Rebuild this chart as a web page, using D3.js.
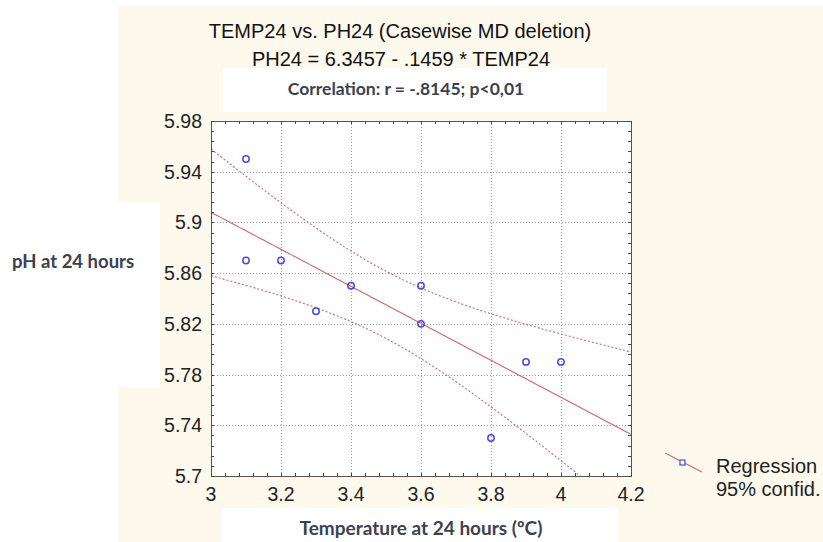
<!DOCTYPE html>
<html>
<head>
<meta charset="utf-8">
<script src="https://cdn.jsdelivr.net/npm/d3@7"></script>
<style>
  body { margin: 0; background: #fff; }
  svg { display: block; }
</style>
</head>
<body>
<div id="chart"></div>
<script>
// data (10 cases)
const temp24 = [3.1, 3.1, 3.2, 3.3, 3.4, 3.6, 3.6, 3.8, 3.9, 4.0];
const ph24 = [5.95, 5.87, 5.87, 5.83, 5.85, 5.85, 5.82, 5.73, 5.79, 5.79];

const xTicks = [3, 3.2, 3.4, 3.6, 3.8, 4, 4.2];
const yTicks = [5.7, 5.74, 5.78, 5.82, 5.86, 5.9, 5.94, 5.98];

const titleText = "TEMP24 vs. PH24 (Casewise MD deletion)";
const equationText = "PH24 = 6.3457 - .1459 * TEMP24";
const corrText = "Correlation: r = -.8145; p<0,01";
const yLabel = "pH at 24 hours";
const xLabel = "Temperature at 24 hours (ºC)";
const legendLabels = ["Regression", "95% confid."];

const width = 823, height = 542;
const margin = { top: 121, right: 192, bottom: 66, left: 211 };
const cream = "#fdf9ed";
const lineColor = "#d06474";
const dotColor = "#4a4ae0";
const arial = "'Liberation Sans', Arial, sans-serif";
const calibri = "Lato, 'Open Sans', sans-serif";

const svg = d3.select("#chart").append("svg")
    .attr("width", width)
    .attr("height", height)
    .attr("viewBox", [0, 0, width, height]);

// background patches (cream page with white boxes behind the labels)
svg.append("rect").attr("x", 118).attr("y", 6).attr("width", width - 118).attr("height", height - 6).attr("fill", cream);
svg.append("rect").attr("x", 0).attr("y", 202).attr("width", 160).attr("height", 185).attr("fill", "#fff");
svg.append("rect").attr("x", 223).attr("y", 68).attr("width", 384).attr("height", 44).attr("fill", "#fff");
svg.append("rect").attr("x", 222).attr("y", 508).attr("width", 396).attr("height", 34).attr("fill", "#fff");

let x = d3.scaleLinear()
    .domain([3, 4.2])
    .range([margin.left, width - margin.right]);

let y = d3.scaleLinear()
    .domain([5.7, 5.98])
    .range([height - margin.bottom, margin.top]);

const x0 = x.range()[0], x1 = x.range()[1];
const y0 = y.range()[1], y1 = y.range()[0];

svg.append("rect")
    .attr("x", x0).attr("y", y0)
    .attr("width", x1 - x0).attr("height", y1 - y0)
    .attr("fill", "#fff");

svg.append("clipPath").attr("id", "plot-clip")
  .append("rect")
    .attr("x", x0).attr("y", y0)
    .attr("width", x1 - x0).attr("height", y1 - y0);

// dotted grid
let grid = svg.append("g")
    .attr("stroke", "#9a9a9a")
    .attr("stroke-width", 1)
    .attr("stroke-dasharray", "1,2");

grid.selectAll(".gx")
    .data(xTicks.slice(1, -1))
    .join("line")
    .attr("x1", d => Math.round(x(d)) + 0.5).attr("x2", d => Math.round(x(d)) + 0.5)
    .attr("y1", y0).attr("y2", y1);

grid.selectAll(".gy")
    .data(yTicks.slice(1, -1))
    .join("line")
    .attr("y1", d => Math.round(y(d)) + 0.5).attr("y2", d => Math.round(y(d)) + 0.5)
    .attr("x1", x0).attr("x2", x1);

// least squares fit + 95% confidence band
const n = temp24.length;
const mx = d3.mean(temp24), my = d3.mean(ph24);
const sxx = d3.sum(temp24, v => (v - mx) ** 2);
const sxy = d3.sum(temp24, (v, i) => (v - mx) * (ph24[i] - my));
const slope = sxy / sxx;
const intercept = my - slope * mx;
const sse = d3.sum(temp24, (v, i) => (ph24[i] - (intercept + slope * v)) ** 2);
const s = Math.sqrt(sse / (n - 2));
const tCrit = 2.306; // t(0.975, df = 8)

const xs = d3.range(0, 121).map(i => 3 + i * 0.01);
const fit = v => intercept + slope * v;
const half = v => tCrit * s * Math.sqrt(1 / n + (v - mx) ** 2 / sxx);

let line = d3.line().x(d => x(d[0])).y(d => y(d[1]));

let plot = svg.append("g").attr("clip-path", "url(#plot-clip)");

plot.append("path")
    .attr("d", line(xs.map(v => [v, fit(v)])))
    .attr("fill", "none")
    .attr("stroke", lineColor)
    .attr("stroke-width", 1.1);

[1, -1].forEach(sign => {
    plot.append("path")
        .attr("d", line(xs.map(v => [v, fit(v) + sign * half(v)])))
        .attr("fill", "none")
        .attr("stroke", lineColor)
        .attr("stroke-width", 1.1)
        .attr("stroke-dasharray", "2,2");
});

// points
plot.selectAll(".dot")
    .data(temp24.map((t, i) => ({ t: t, p: ph24[i] })))
    .join("circle")
    .attr("class", "dot")
    .attr("cx", d => x(d.t))
    .attr("cy", d => y(d.p))
    .attr("r", 3.2)
    .attr("fill", "none")
    .attr("stroke", dotColor)
    .attr("stroke-width", 1.5);

// frame
svg.append("rect")
    .attr("x", x0 + 0.5).attr("y", y0 + 0.5)
    .attr("width", x1 - x0).attr("height", y1 - y0)
    .attr("fill", "none")
    .attr("stroke", "#555")
    .attr("stroke-width", 1);

// inward ticks on all four sides, 5 minor steps per major
const xMinor = d3.range(0, 31).map(i => 3 + i * 0.04);
const yMinor = d3.range(0, 36).map(i => 5.7 + i * 0.008);

let ticks = svg.append("g").attr("stroke", "#444").attr("stroke-width", 1);

ticks.selectAll(".tx")
    .data(xMinor)
    .join("g")
    .each(function(d) {
        const px = Math.round(x(d)) + 0.5;
        d3.select(this).append("line").attr("x1", px).attr("x2", px).attr("y1", y1).attr("y2", y1 - 3);
        d3.select(this).append("line").attr("x1", px).attr("x2", px).attr("y1", y0).attr("y2", y0 + 3);
    });

ticks.selectAll(".ty")
    .data(yMinor)
    .join("g")
    .each(function(d) {
        const py = Math.round(y(d)) + 0.5;
        d3.select(this).append("line").attr("x1", x0).attr("x2", x0 + 3).attr("y1", py).attr("y2", py);
        d3.select(this).append("line").attr("x1", x1).attr("x2", x1 - 3).attr("y1", py).attr("y2", py);
    });

// tick labels
svg.append("g")
    .attr("font-family", arial)
    .attr("font-size", 19.5)
    .attr("fill", "#222")
    .selectAll("text")
    .data(xTicks)
    .join("text")
    .attr("x", d => x(d))
    .attr("y", 501)
    .attr("text-anchor", "middle")
    .text(d => String(d));

svg.append("g")
    .attr("font-family", arial)
    .attr("font-size", 19.5)
    .attr("fill", "#222")
    .selectAll("text")
    .data(yTicks)
    .join("text")
    .attr("x", 202)
    .attr("y", d => y(d))
    .attr("dy", "0.36em")
    .attr("text-anchor", "end")
    .text(d => String(d));

// titles
svg.append("text")
    .attr("x", 400).attr("y", 38)
    .attr("text-anchor", "middle")
    .attr("font-family", arial)
    .attr("font-size", 20)
    .attr("fill", "#111")
    .text(titleText);

svg.append("text")
    .attr("x", 401).attr("y", 66)
    .attr("text-anchor", "middle")
    .attr("font-family", arial)
    .attr("font-size", 20)
    .attr("fill", "#111")
    .text(equationText);

svg.append("text")
    .attr("x", 406).attr("y", 95)
    .attr("text-anchor", "middle")
    .attr("font-family", calibri)
    .attr("font-weight", 700)
    .attr("font-size", 17.5)
    .attr("fill", "#3b4150")
    .text(corrText);

svg.append("text")
    .attr("x", 12).attr("y", 268)
    .attr("font-family", calibri)
    .attr("font-weight", 700)
    .attr("font-size", 18.5)
    .attr("fill", "#3b4150")
    .text(yLabel);

svg.append("text")
    .attr("x", 421).attr("y", 535)
    .attr("text-anchor", "middle")
    .attr("font-family", calibri)
    .attr("font-weight", 700)
    .attr("font-size", 19)
    .attr("fill", "#3b4150")
    .text(xLabel);

// legend
let legend = svg.append("g");
legend.append("line")
    .attr("x1", 665).attr("y1", 453)
    .attr("x2", 702).attr("y2", 472)
    .attr("stroke", lineColor)
    .attr("stroke-width", 1.1);
legend.append("rect")
    .attr("x", 680).attr("y", 460)
    .attr("width", 5).attr("height", 5)
    .attr("fill", "#fff")
    .attr("stroke", dotColor)
    .attr("stroke-width", 1.2);
legend.selectAll(".lt")
    .data(legendLabels)
    .join("text")
    .attr("x", 716)
    .attr("y", (d, i) => 473 + i * 23)
    .attr("font-family", arial)
    .attr("font-size", 20)
    .attr("fill", "#222")
    .text(d => d);
</script>
</body>
</html>
